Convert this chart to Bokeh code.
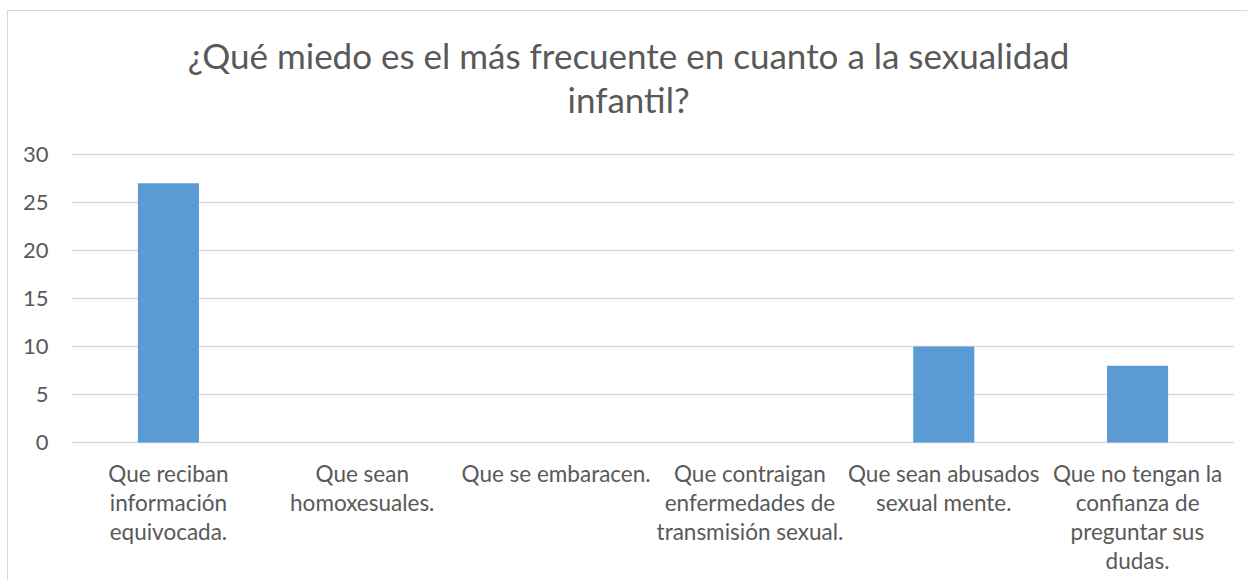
from bokeh.plotting import figure
from bokeh.models import ColumnDataSource, FixedTicker, Label
from bokeh.embed import file_html
from bokeh.resources import INLINE

categories = [
    "Que reciban información equivocada.",
    "Que sean homoxesuales.",
    "Que se embaracen.",
    "Que contraigan enfermedades de transmisión sexual.",
    "Que sean abusados sexual mente.",
    "Que no tengan la confianza de preguntar sus dudas.",
]
category_lines = [
    ["Que reciban", "información", "equivocada."],
    ["Que sean", "homoxesuales."],
    ["Que se embaracen."],
    ["Que contraigan", "enfermedades de", "transmisión sexual."],
    ["Que sean abusados", "sexual mente."],
    ["Que no tengan la", "confianza de", "preguntar sus", "dudas."],
]
values = [27, 0, 0, 0, 10, 8]
y_ticks = [0, 5, 10, 15, 20, 25, 30]
title_lines = ["¿Qué miedo es el más frecuente en cuanto a la sexualidad", "infantil?"]

FONT = "Lato"
GREY = "#595959"
GRID = "#d9d9d9"

PX_PER_UNIT = 9.6
W, H = 1240, 570
ZERO_Y = 431          # pixel row of value 0 inside the canvas
y_top = ZERO_Y / PX_PER_UNIT
y_bot = -(H - ZERO_Y) / PX_PER_UNIT

src = ColumnDataSource(dict(cat=categories, val=values))

p = figure(
    x_range=categories, y_range=(y_bot, y_top),
    width=W, height=H,
    output_backend="svg", toolbar_location=None,
    min_border_left=63, min_border_right=14, min_border_top=0, min_border_bottom=0,
)
p.styles = {"margin-left": "7px", "margin-top": "10px",
            "border-top": f"1px solid {GRID}", "border-left": f"1px solid {GRID}"}

p.vbar(x="cat", top="val", width=0.315, source=src, color="#5b9bd5", line_color=None)

p.outline_line_color = None
p.background_fill_color = "white"
p.xgrid.grid_line_color = None
p.ygrid.grid_line_color = GRID
p.ygrid.grid_line_width = 1.5
p.yaxis.ticker = FixedTicker(ticks=y_ticks)
p.yaxis.axis_line_color = None
p.yaxis.major_tick_line_color = None
p.yaxis.minor_tick_line_color = None
p.yaxis.major_label_standoff = 17
p.yaxis.major_label_text_font = FONT
p.yaxis.major_label_text_font_size = "22px"
p.yaxis.major_label_text_color = GREY
p.xaxis.visible = False

# category labels (one row per text line) placed below the zero line
lx, ly, lt, loff = [], [], [], []
for cat, lines in zip(categories, category_lines):
    for k, line in enumerate(lines):
        lx.append(cat)
        ly.append(0)
        lt.append(line)
        loff.append(31 + k * 29)
p.text(x="x", y="y", text="t", y_offset="off",
       source=ColumnDataSource(dict(x=lx, y=ly, t=lt, off=loff)),
       text_align="center", text_baseline="alphabetic",
       text_font={"value": FONT}, text_font_size={"value": "22.5px"}, text_color=GREY)

# title
for txt, base in zip(title_lines, [(ZERO_Y - 43) / PX_PER_UNIT, (ZERO_Y - 87) / PX_PER_UNIT]):
    p.add_layout(Label(x=2.874, y=base, text=txt, text_align="center", text_baseline="alphabetic",
                       text_font=FONT, text_font_size="35px", text_color=GREY))

open("out.html", "w").write(file_html(p, INLINE))
